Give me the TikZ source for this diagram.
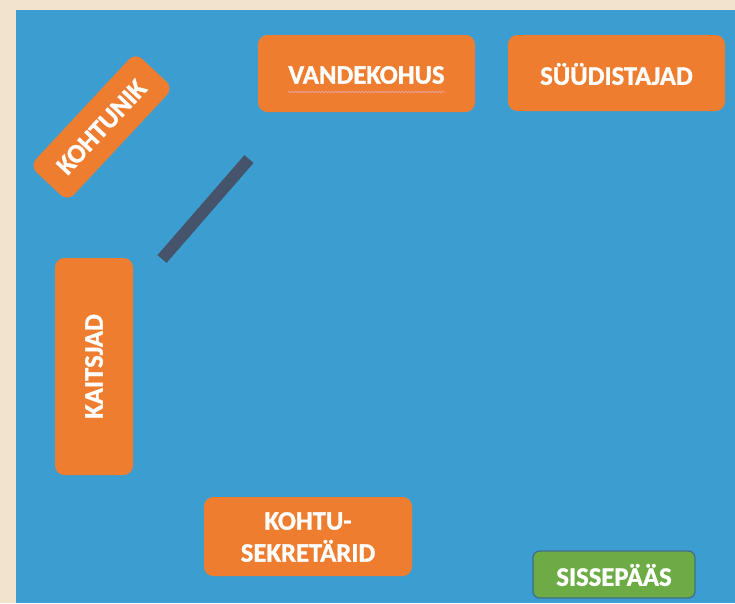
\documentclass[tikz,border=0pt]{standalone}
\usepackage{fontspec}
\setmainfont{Carlito}[BoldFeatures={FakeBold=1.2}]
\usetikzlibrary{decorations.pathmorphing}
\definecolor{bgbeige}{HTML}{F2E3CD}
\definecolor{roomblue}{HTML}{3C9ED0}
\definecolor{boxorange}{HTML}{EE7D30}
\definecolor{boxgreen}{HTML}{6DAC45}
\definecolor{greenborder}{HTML}{3F6F8A}
\definecolor{barslate}{HTML}{45546B}
\definecolor{spellred}{HTML}{E8A0A0}
\begin{document}
\begin{tikzpicture}[x=0.75pt,y=-0.75pt,
  lbl/.style={font=\bfseries\fontsize{20}{24}\selectfont, text=white, align=center},
  obox/.style={fill=boxorange, rounded corners=7pt},
  gbox/.style={fill=boxgreen, draw=greenborder, line width=1pt, rounded corners=5pt}]
\useasboundingbox (0,0) rectangle (735,603);
\fill[bgbeige] (0,0) rectangle (735,603);
\fill[roomblue] (16,10) rectangle (735,603);
% boxes
\path[obox] (258,35) rectangle (475,112);
\node[lbl] (vande) at (366.5,75) {VANDEKOHUS};
\draw[spellred, line width=0.6pt, decorate, decoration={snake, amplitude=0.6pt, segment length=2.5pt}] (288,92) -- (445,92);
\path[obox] (508,35) rectangle (725,111);
\node[lbl] (syydi) at (616.5,74) {SÜÜDISTAJAD};
\path[obox] (55,258) rectangle (133,475);
\node[lbl, rotate=90] (kaits) at (94,366.5) {KAITSJAD};
\path[obox] (204,497) rectangle (412,576);
\node[lbl] (sekr) at (308,537) {KOHTU-\\SEKRETÄRID};
\path[gbox] (533,551) rectangle (695,598);
\node[lbl] (sisse) at (614,575) {SISSEPÄÄS};
% rotated judge box
\node[obox, lbl, rotate=47, minimum width=155*0.75pt, minimum height=52*0.75pt, inner sep=0pt] (kohtu) at (101.5,127) {KOHTUNIK};
% bar
\draw[barslate, line width=9pt] (162,259) -- (249,159);
\end{tikzpicture}
\end{document}
